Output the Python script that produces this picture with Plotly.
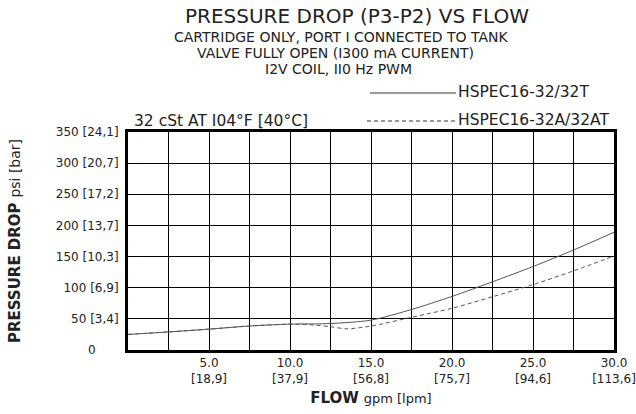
import plotly.graph_objects as go

# ---- data ----
flow_solid = [0, 2.5, 5, 7.5, 10, 12.5, 15, 17.5, 20, 22.5, 25, 27.5, 30]
dp_solid = [25, 29, 33.5, 38.5, 41.5, 42.5, 48, 65, 86, 109.5, 134, 160.5, 189]
flow_dash = [0, 2.5, 5, 7.5, 10, 11.5, 12.5, 13.5, 15, 17.5, 20, 22.5, 25, 27.5, 30]
dp_dash = [25, 29, 33.5, 38.5, 41.5, 40, 37.5, 34, 38.5, 52.5, 67, 85.5, 105, 127, 151]
series_names = ["HSPEC16-32/32T", "HSPEC16-32A/32AT"]

x_tick_vals = [5, 10, 15, 20, 25, 30]
x_tick_text = ["5.0<br>[18,9]", "10.0<br>[37,9]", "15.0<br>[56,8]", "20.0<br>[75,7]",
               "25.0<br>[94,6]", "30.0<br>[113,6]"]
x_minor_vals = [2.5, 7.5, 12.5, 17.5, 22.5, 27.5]
y_tick_vals = [0, 50, 100, 150, 200, 250, 300, 350]
y_tick_text = ["0" + "&nbsp;" * 6, "50 [3,4]", "100 [6,9]", "150 [10,3]", "200 [13,7]",
               "250 [17,2]", "300 [20,7]", "350 [24,1]"]

title_lines = ["PRESSURE DROP (P3-P2) VS FLOW",
               "CARTRIDGE ONLY, PORT I CONNECTED TO TANK",
               "VALVE FULLY OPEN (I300 mA CURRENT)",
               "I2V COIL, II0 Hz PWM"]
condition_text = "32 cSt AT I04°F [40°C]"

FONT = "DejaVu Sans, sans-serif"
TXT = "#222"

W, H = 636, 414
L, R, T, B = 128, 22, 132, 64
pw, ph = W - L - R, H - T - B
def px(x):
    return (x - L) / pw
def py(y):
    return (H - B - y) / ph

fig = go.Figure()
fig.add_trace(go.Scatter(x=flow_solid, y=dp_solid, mode="lines",
                         line=dict(color="#555", width=1, shape="spline", smoothing=0.8),
                         name=series_names[0], showlegend=False))
fig.add_trace(go.Scatter(x=flow_dash, y=dp_dash, mode="lines",
                         line=dict(color="#555", width=1, dash="4px,3px", shape="spline", smoothing=0.8),
                         name=series_names[1], showlegend=False))

fig.update_xaxes(range=[0, 30], showgrid=True, gridcolor="black", gridwidth=1, automargin=False,
                 showline=True, linecolor="black", linewidth=3, mirror=True, zeroline=False,
                 tickmode="array", tickvals=x_tick_vals, ticktext=x_tick_text, ticks="",
                 tickfont=dict(family=FONT, size=12, color=TXT),
                 minor=dict(tickmode="array", tickvals=x_minor_vals, showgrid=True,
                            gridcolor="black", gridwidth=1),
                 title=dict(text="<b>FLOW</b> <span style='font-size:13px'>gpm [lpm]</span>",
                            font=dict(family=FONT, size=15, color=TXT), standoff=8))
fig.update_yaxes(range=[0, 350], showgrid=True, gridcolor="black", gridwidth=1, automargin=False,
                 showline=True, linecolor="black", linewidth=3, mirror=True, zeroline=False,
                 tickmode="array", tickvals=y_tick_vals, ticktext=y_tick_text, ticks="",
                 tickfont=dict(family=FONT, size=12, color=TXT), ticklabelstandoff=4,
                 title=dict(text="<b>PRESSURE DROP</b> <span style='font-size:14px'>psi [bar]</span>",
                            font=dict(family=FONT, size=15, color=TXT), standoff=32))

annotations = []
title_y = [16, 37, 53, 69]
title_x = [357, 341, 335, 338]
title_sizes = [20, 14, 14, 14]
for t, x, y, s in zip(title_lines, title_x, title_y, title_sizes):
    annotations.append(dict(text=t, x=px(x), y=py(y), xref="paper", yref="paper", showarrow=False,
                            yanchor="middle", font=dict(family=FONT, size=s, color=TXT)))
annotations.append(dict(text=condition_text, x=px(132), y=py(121), xref="paper", yref="paper",
                        xanchor="left", yanchor="middle", showarrow=False,
                        font=dict(family=FONT, size=15.5, color=TXT)))
annotations.append(dict(text=series_names[0], x=px(456), y=py(92), xref="paper", yref="paper",
                        xanchor="left", yanchor="middle", showarrow=False,
                        font=dict(family=FONT, size=15.5, color=TXT)))
annotations.append(dict(text=series_names[1], x=px(456), y=py(120), xref="paper", yref="paper",
                        xanchor="left", yanchor="middle", showarrow=False,
                        font=dict(family=FONT, size=15.5, color=TXT)))

shapes = [
    dict(type="line", xref="paper", yref="paper", x0=px(370), x1=px(456), y0=py(93), y1=py(93),
         line=dict(color="#333", width=1)),
    dict(type="line", xref="paper", yref="paper", x0=px(367), x1=px(456), y0=py(121), y1=py(121),
         line=dict(color="#333", width=1, dash="4px,3px")),
]

fig.update_layout(width=W, height=H, margin=dict(l=L, r=R, t=T, b=B, autoexpand=False),
                  paper_bgcolor="white", plot_bgcolor="white",
                  annotations=annotations, shapes=shapes, showlegend=False)
fig.write_html("out.html", config={"displayModeBar": False},
               post_script="document.body.style.margin='0';")
